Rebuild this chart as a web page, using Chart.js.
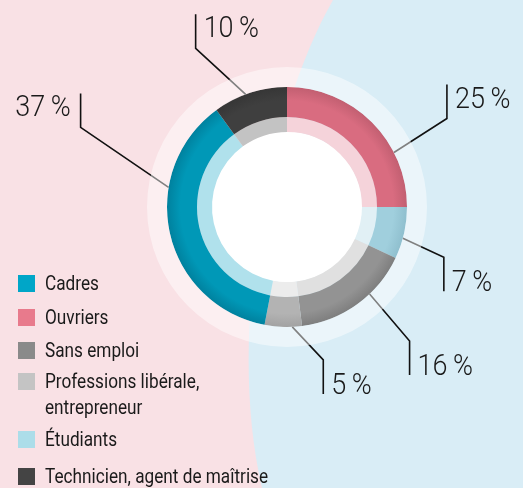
<!DOCTYPE html>
<html lang="fr">
<head>
<meta charset="UTF-8">
<title>Répartition</title>
<script src="https://cdn.jsdelivr.net/npm/chart.js"></script>
<style>
  body { margin: 0; background: #fff; }
  #wrap { position: relative; width: 523px; height: 488px; overflow: hidden; }
  #legend { position: absolute; left: 0; top: 0; width: 0; height: 0; font-family: Roboto, sans-serif; color: #1a1a1a; }
  .item { position: absolute; left: 18px; white-space: nowrap; }
  .sw { position: absolute; left: 0; top: 0; width: 17px; height: 17px; }
  .txt { position: absolute; left: 27px; top: -5px; font-size: 20px; line-height: 26px; white-space: pre; transform: scaleX(0.86); transform-origin: 0 0; }
</style>
</head>
<body>
<div id="wrap">
  <canvas id="chart"></canvas>
  <div id="legend"></div>
</div>
<script>
// segments clockwise from 12 o'clock
const categories = ['Ouvriers', 'Étudiants', 'Sans emploi', 'Professions libérale,\nentrepreneur', 'Cadres', 'Technicien, agent de maîtrise'];
const shares = [25, 7, 16, 5, 37, 10];
const legendOrder = ['Cadres', 'Ouvriers', 'Sans emploi', 'Professions libérale,\nentrepreneur', 'Étudiants', 'Technicien, agent de maîtrise'];

const ringColors = ['#d96c80', '#a0cfdd', '#939393', '#b3b3b3', '#0098b7', '#3f3f3f'];
const ringShade = ['#c25f71', '#8fbfce', '#7e7e7e', '#a2a2a2', '#00819e', '#363636'];
const innerColors = ['#f5d3da', '#e1f0f5', '#e0e0e0', '#ececec', '#b0e1ec', '#c3c3c3'];
const legendColors = ['#00a6c8', '#e87a8c', '#8a8a8a', '#c4c4c4', '#acdde9', '#444444'];

// legend (html)
const legendTops = [275, 309, 342, 373, 431, 468];
const legendEl = document.getElementById('legend');
legendOrder.forEach((name, i) => {
  const d = document.createElement('div');
  d.className = 'item';
  d.style.top = legendTops[i] + 'px';
  d.innerHTML = '<span class="sw" style="background:' + legendColors[i] + '"></span><span class="txt"></span>';
  d.querySelector('.txt').textContent = name;
  legendEl.appendChild(d);
});

function ringGradient(c) {
  const chart = c.chart;
  const area = chart.chartArea;
  if (!area) return ringColors[c.dataIndex];
  const cx = (area.left + area.right) / 2;
  const cy = (area.top + area.bottom) / 2;
  const g = chart.ctx.createRadialGradient(cx, cy, 90, cx, cy, 120);
  g.addColorStop(0, ringColors[c.dataIndex]);
  g.addColorStop(0.55, ringColors[c.dataIndex]);
  g.addColorStop(1, ringShade[c.dataIndex]);
  return g;
}

// background split, white hole, leader lines and percentages
const callouts = [
  { f: 0.70, dx: 53, dy: -34, up: true },
  { f: 0.60, dx: 41, dy: 19, up: false },
  { f: 0.37, dx: 40, dy: 47, up: false },
  { f: 0.26, dx: 31, dy: 33, up: false },
  { f: 0.665, dx: -88, dy: -60, up: true, left: true },
  { f: 0.44, dx: -50, dy: -46, up: true }
];

const decor = {
  id: 'decor',
  beforeDraw(chart) {
    const ctx = chart.ctx;
    ctx.save();
    ctx.fillStyle = '#f9e1e5';
    ctx.fillRect(0, 0, chart.width, chart.height);
    ctx.fillStyle = '#d9edf6';
    ctx.beginPath();
    ctx.moveTo(333, 0);
    ctx.bezierCurveTo(270, 110, 225, 330, 262, chart.height);
    ctx.lineTo(chart.width, chart.height);
    ctx.lineTo(chart.width, 0);
    ctx.closePath();
    ctx.fill();
    ctx.restore();
  },
  beforeDatasetsDraw(chart) {
    const ctx = chart.ctx;
    const inner = chart.getDatasetMeta(2).data[0];
    const ring = chart.getDatasetMeta(1).data;
    ctx.save();
    ctx.fillStyle = '#ffffff';
    ctx.beginPath();
    ctx.arc(inner.x, inner.y, inner.innerRadius + 0.5, 0, Math.PI * 2);
    ctx.fill();
    ctx.strokeStyle = '#111';
    ctx.lineWidth = 1.6;
    ring.forEach((arc, i) => {
      const c = callouts[i];
      const a = arc.startAngle + c.f * (arc.endAngle - arc.startAngle);
      const sx = arc.x + Math.cos(a) * arc.outerRadius;
      const sy = arc.y + Math.sin(a) * arc.outerRadius;
      const ex = sx + c.dx, ey = sy + c.dy;
      ctx.beginPath();
      ctx.moveTo(sx, sy);
      ctx.lineTo(ex, ey);
      ctx.lineTo(ex, ey + (c.up ? -34 : 34));
      ctx.stroke();
    });
    ctx.restore();
  },
  afterDatasetsDraw(chart) {
    const ctx = chart.ctx;
    const ring = chart.getDatasetMeta(1).data;
    ctx.save();
    ctx.fillStyle = '#1a1a1a';
    ctx.font = '300 30px Roboto, sans-serif';
    ctx.textBaseline = 'alphabetic';
    const sx = 0.9;
    ring.forEach((arc, i) => {
      const c = callouts[i];
      const a = arc.startAngle + c.f * (arc.endAngle - arc.startAngle);
      const ex = arc.x + Math.cos(a) * arc.outerRadius + c.dx;
      const ey = arc.y + Math.sin(a) * arc.outerRadius + c.dy;
      const endY = ey + (c.up ? -34 : 34);
      const base = c.up ? endY + 23 : endY;
      const tx = c.left ? ex - 10 : ex + 8;
      ctx.save();
      ctx.translate(tx, base);
      ctx.scale(sx, 1);
      ctx.textAlign = c.left ? 'right' : 'left';
      ctx.fillText(shares[i] + '\u2009%', 0, 0);
      ctx.restore();
    });
    ctx.restore();
  }
};

new Chart(document.getElementById('chart'), {
  type: 'doughnut',
  data: {
    labels: categories,
    datasets: [
      { data: [100], backgroundColor: 'rgba(255,255,255,0.47)', borderWidth: 0, weight: 20 },
      { data: shares, backgroundColor: ringGradient, borderWidth: 0, weight: 30 },
      { data: shares, backgroundColor: innerColors, borderWidth: 0, weight: 15 }
    ]
  },
  options: {
    responsive: true,
    maintainAspectRatio: false,
    animation: false,
    cutout: 75,
    layout: { padding: { left: 147, top: 67, right: 96, bottom: 141 } },
    plugins: { legend: { display: false }, tooltip: { enabled: false } },
    events: []
  },
  plugins: [decor]
});
</script>
</body>
</html>
